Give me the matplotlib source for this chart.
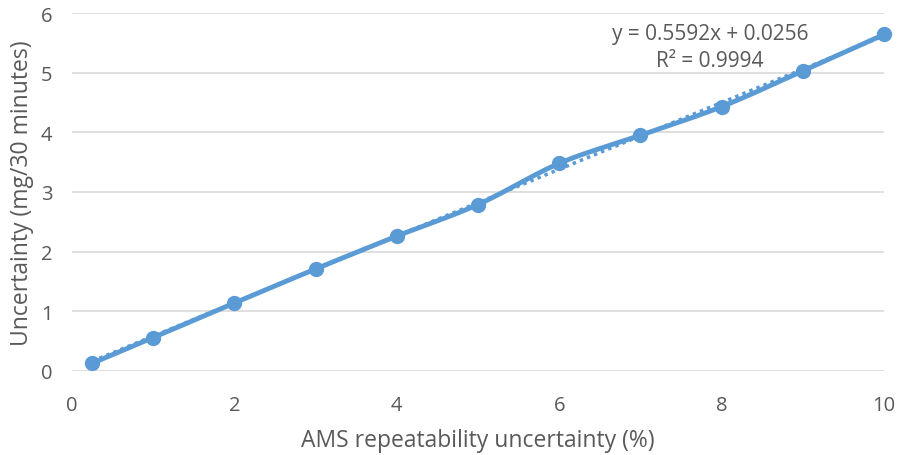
import numpy as np
import matplotlib
matplotlib.use("Agg")
import matplotlib.pyplot as plt

# ── data ──────────────────────────────────────────────────────────────────────
ams_repeat = [0.25, 1, 2, 3, 4, 5, 6, 7, 8, 9, 10]
uncertainty = [0.13, 0.56, 1.14, 1.71, 2.26, 2.79, 3.48, 3.95, 4.43, 5.03, 5.64]
slope, intercept, r2 = 0.5592, 0.0256, 0.9994

BLUE = "#5B9BD5"
GRID = "#D9D9D9"
TEXT = "#595959"

plt.rcParams["font.family"] = ["Open Sans", "DejaVu Sans"]


def smooth(xs, ys, n=40):
    # Catmull-Rom style Bezier segments, like a spreadsheet "smoothed line"
    p = np.column_stack([xs, ys]).astype(float)
    p = np.vstack([p[0], p, p[-1]])
    out = []
    t = np.linspace(0, 1, n)[:, None]
    for i in range(1, len(p) - 2):
        p0, p1, p2, p3 = p[i - 1], p[i], p[i + 1], p[i + 2]
        c1 = p1 + (p2 - p0) / 6
        c2 = p2 - (p3 - p1) / 6
        seg = ((1 - t) ** 3 * p1 + 3 * (1 - t) ** 2 * t * c1
               + 3 * (1 - t) * t ** 2 * c2 + t ** 3 * p2)
        out.append(seg if i == 1 else seg[1:])
    seg = np.vstack(out)
    return seg[:, 0], seg[:, 1]


fig = plt.figure(figsize=(9.01, 4.56), dpi=100)
ax = fig.add_axes([72 / 901, 84 / 456, 812 / 901, 358 / 456])

# linear trendline (dotted)
tx = np.array([ams_repeat[0], ams_repeat[-1]])
ax.plot(tx, slope * tx + intercept, color=BLUE, lw=2.5, ls=(0, (1, 1.2)),
        zorder=2, clip_on=False)

sx, sy = smooth(ams_repeat, uncertainty)
ax.plot(sx, sy, color=BLUE, lw=3.5, solid_capstyle="round", zorder=3,
        clip_on=False)
ax.plot(ams_repeat, uncertainty, "o", color=BLUE, ms=10, zorder=4,
        clip_on=False)

ax.text(7.86, 5.66, f"y = {slope}x + {intercept}", ha="center", va="center",
        fontsize=15, color=TEXT)
ax.text(7.86, 5.21, f"R² = {r2}", ha="center", va="center",
        fontsize=15, color=TEXT)

ax.set_xlim(0, 10)
ax.set_ylim(0, 6)
ax.set_xticks(range(0, 11, 2))
ax.set_yticks(range(0, 7))
ax.grid(axis="y", color=GRID, lw=1.2)
ax.set_axisbelow(True)
for s in ax.spines.values():
    s.set_visible(False)
ax.tick_params(length=0, labelsize=14.5, labelcolor=TEXT)
ax.tick_params(axis="x", pad=17.5)
ax.tick_params(axis="y", pad=14)

ax.set_xlabel("AMS repeatability uncertainty (%)", fontsize=16.5,
              color=TEXT, labelpad=9)
ax.set_ylabel("Uncertainty (mg/30 minutes)", fontsize=16.5,
              color=TEXT, labelpad=5)

fig.savefig("out.png", dpi=100)
